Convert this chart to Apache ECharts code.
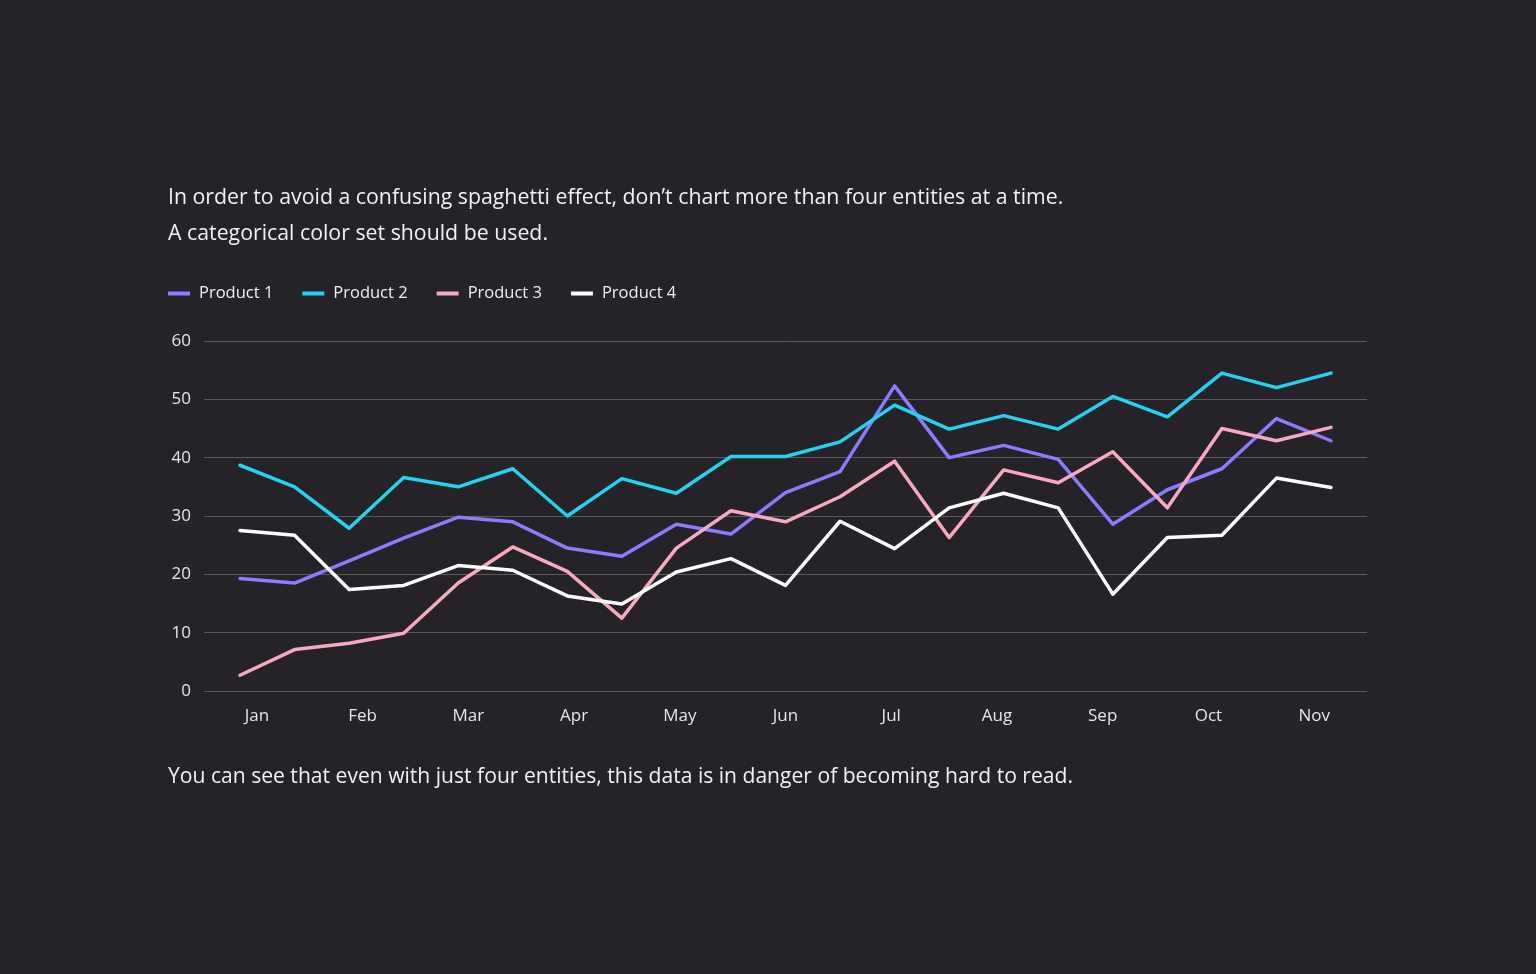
<!DOCTYPE html>
<html>
<head>
<meta charset="utf-8">
<title>Spaghetti chart</title>
<script src="https://cdn.jsdelivr.net/npm/echarts@6/dist/echarts.min.js"></script>
<style>
  html, body { margin: 0; padding: 0; background: #252228; }
  #chart { width: 1536px; height: 974px; }
</style>
</head>
<body>
<div id="chart"></div>
<script>
const months = ['Jan', 'Feb', 'Mar', 'Apr', 'May', 'Jun', 'Jul', 'Aug', 'Sep', 'Oct', 'Nov']
const seriesNames = ['Product 1', 'Product 2', 'Product 3', 'Product 4']

// two readings per month (21 points)
const product1 = [19.3, 18.5, 22.3, 26.2, 29.8, 29.0, 24.5, 23.1, 28.6, 26.9, 34.0, 37.6, 52.3, 40.0, 42.1, 39.7, 28.6, 34.5, 38.1, 46.7, 42.9]
const product2 = [38.7, 35.0, 27.9, 36.6, 35.0, 38.1, 30.0, 36.4, 33.9, 40.2, 40.2, 42.7, 49.0, 44.9, 47.2, 44.9, 50.5, 47.0, 54.5, 52.0, 54.5]
const product3 = [2.7, 7.1, 8.2, 9.9, 18.5, 24.7, 20.5, 12.5, 24.5, 30.9, 29.0, 33.3, 39.4, 26.3, 37.9, 35.7, 41.0, 31.4, 45.0, 42.9, 45.2]
const product4 = [27.5, 26.7, 17.4, 18.1, 21.5, 20.7, 16.3, 14.9, 20.4, 22.7, 18.1, 29.1, 24.4, 31.4, 33.9, 31.4, 16.6, 26.3, 26.7, 36.5, 34.9]

const colors = ['#8b7bff', '#22d3f2', '#f6a9bf', '#ffffff']
const allValues = [product1, product2, product3, product4]

const chart = echarts.init(document.getElementById('chart'))
const font = '"Open Sans", Roboto, sans-serif'

chart.setOption({
  backgroundColor: '#252228',
  color: colors,
  textStyle: { fontFamily: font },
  title: {
    left: 168,
    top: 180,
    padding: 0,
    text: 'In order to avoid a confusing spaghetti effect, don\u2019t chart more than four entities at a time.\nA categorical color set should be used.',
    textStyle: { color: '#f2f2f2', fontSize: 21.3, fontWeight: 'normal', lineHeight: 36, fontFamily: font }
  },
  graphic: [{
    type: 'text',
    left: 168,
    top: 766,
    style: {
      text: 'You can see that even with just four entities, this data is in danger of becoming hard to read.',
      fill: '#f2f2f2',
      fontSize: 21.1,
      fontFamily: font
    }
  }],
  legend: {
    left: 168,
    top: 285,
    padding: 0,
    icon: 'rect',
    itemWidth: 22,
    itemHeight: 4,
    itemGap: 29,
    textStyle: { color: '#f0f0f0', fontSize: 16.5, fontFamily: font, padding: [0, 0, 0, 4] },
    data: seriesNames
  },
  grid: { left: 204, right: 169, top: 341, bottom: 283 },
  xAxis: [
    {
      type: 'category',
      data: months,
      boundaryGap: true,
      axisLine: { show: false },
      axisTick: { show: false },
      axisLabel: { color: '#e6e6e6', fontSize: 17, margin: 17, fontFamily: font }
    },
    {
      type: 'value',
      show: false,
      min: -0.66,
      max: 20.66
    }
  ],
  yAxis: {
    type: 'value',
    min: 0,
    max: 60,
    interval: 10,
    axisLine: { show: false },
    axisTick: { show: false },
    axisLabel: { color: '#e6e6e6', fontSize: 17, margin: 13, fontFamily: font },
    splitLine: { lineStyle: { color: '#5c5960', width: 1 } }
  },
  series: seriesNames.map((name, k) => ({
    name,
    type: 'line',
    xAxisIndex: 1,
    symbol: 'none',
    data: allValues[k].map((v, i) => [i, v]),
    lineStyle: { width: 3.5, color: colors[k], cap: 'round', join: 'round' }
  }))
})
</script>
</body>
</html>
